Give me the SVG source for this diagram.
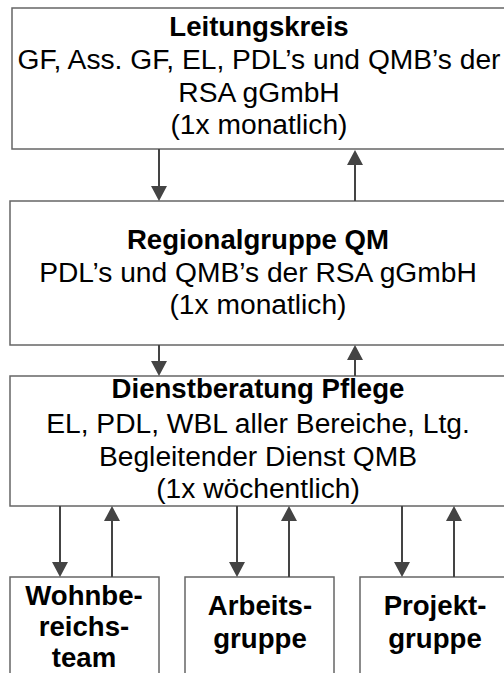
<svg xmlns="http://www.w3.org/2000/svg" width="504" height="673" viewBox="0 0 504 673">
<style>
.box{fill:#fff;stroke:#666;stroke-width:1.5}
.t{font-family:"Liberation Sans",Arial,sans-serif;font-size:28.2px;fill:#000;text-anchor:middle}
.b{font-weight:bold;font-size:27.6px}
.c{stroke:#444;stroke-width:2;fill:none;marker-end:url(#ah)}
</style>
<defs>
<marker id="ah" markerUnits="userSpaceOnUse" markerWidth="16" markerHeight="16" viewBox="0 0 16 16" refX="0" refY="8" orient="auto">
<path d="M0,0 L15,8 L0,16 Z" fill="#444"/>
</marker>
</defs>
<rect width="504" height="673" fill="#fff"/>
<g id="leitungskreis">
<rect class="box" x="12" y="8" width="500" height="141"/>
<text class="t b" x="259" y="36">Leitungskreis</text>
<text class="t" x="259" y="69">GF, Ass. GF, EL, PDL’s und QMB’s der</text>
<text class="t" x="259" y="102">RSA gGmbH</text>
<text class="t" x="259" y="134">(1x monatlich)</text>
</g>
<g id="regionalgruppe">
<rect class="box" x="10" y="201" width="500" height="144"/>
<text class="t b" x="258" y="249">Regionalgruppe QM</text>
<text class="t" x="258" y="282">PDL’s und QMB’s der RSA gGmbH</text>
<text class="t" x="258" y="314">(1x monatlich)</text>
</g>
<g id="dienstberatung">
<rect class="box" x="10" y="376" width="500" height="130"/>
<text class="t b" x="258" y="398">Dienstberatung Pflege</text>
<text class="t" x="258" y="433">EL, PDL, WBL aller Bereiche, Ltg.</text>
<text class="t" x="258" y="466">Begleitender Dienst QMB</text>
<text class="t" x="258" y="498">(1x wöchentlich)</text>
</g>
<g id="wohnbereichsteam">
<rect class="box" x="10" y="577" width="149" height="110"/>
<text class="t b" x="84" y="605">Wohnbe-</text>
<text class="t b" x="84" y="636">reichs-</text>
<text class="t b" x="84" y="667">team</text>
</g>
<g id="arbeitsgruppe">
<rect class="box" x="185" y="577" width="149" height="110"/>
<text class="t b" x="260" y="615">Arbeits-</text>
<text class="t b" x="260" y="648">gruppe</text>
</g>
<g id="projektgruppe">
<rect class="box" x="360" y="577" width="149" height="110"/>
<text class="t b" x="435" y="615">Projekt-</text>
<text class="t b" x="435" y="648">gruppe</text>
</g>
<g id="connectors">
<line class="c" x1="159" y1="149" x2="159" y2="186"/>
<line class="c" x1="355" y1="201" x2="355" y2="165"/>
<line class="c" x1="159" y1="345" x2="159" y2="361"/>
<line class="c" x1="355" y1="376" x2="355" y2="360"/>
<line class="c" x1="60" y1="506" x2="60" y2="562"/>
<line class="c" x1="112" y1="577" x2="112" y2="521"/>
<line class="c" x1="237" y1="506" x2="237" y2="562"/>
<line class="c" x1="289" y1="577" x2="289" y2="521"/>
<line class="c" x1="402" y1="506" x2="402" y2="562"/>
<line class="c" x1="454" y1="577" x2="454" y2="521"/>
</g>
</svg>
